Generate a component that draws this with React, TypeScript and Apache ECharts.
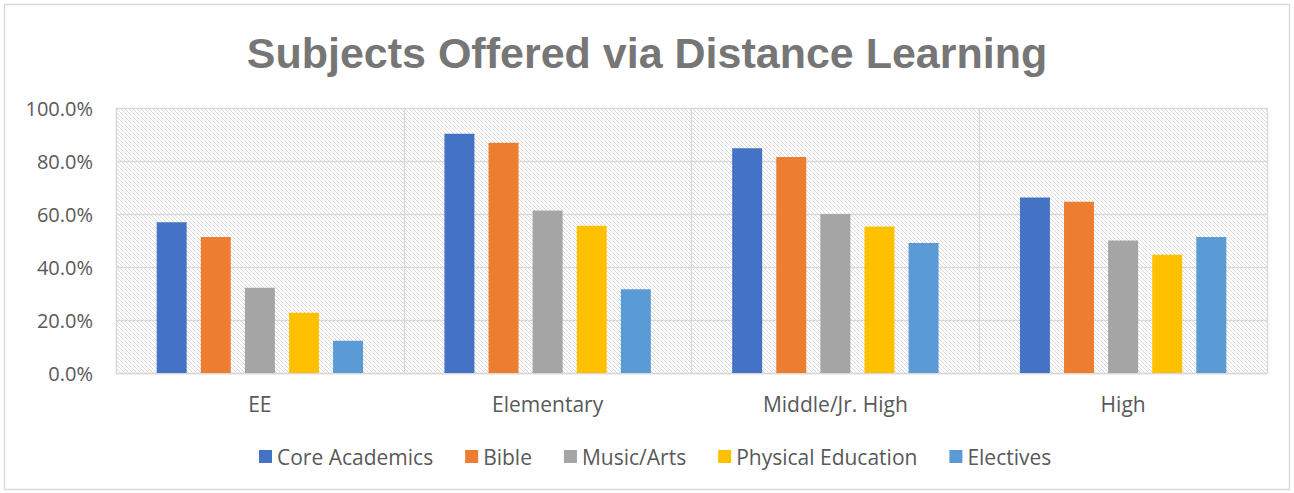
import React, { useEffect, useRef } from "react";
import * as echarts from "echarts";

const categories = ["EE", "Elementary", "Middle/Jr. High", "High"];
const seriesNames = ["Core Academics", "Bible", "Music/Arts", "Physical Education", "Electives"];
const coreAcademics = [56.9, 90.3, 84.8, 66.2];
const bible = [51.3, 86.9, 81.5, 64.6];
const musicArts = [32.2, 61.3, 60.0, 50.0];
const physicalEducation = [22.7, 55.6, 55.3, 44.6];
const electives = [12.2, 31.6, 49.1, 51.3];
const colors = ["#4472C4", "#ED7D31", "#A5A5A5", "#FFC000", "#5B9BD5"];
const yTicks = { min: 0, max: 100, interval: 20 };

export default function App() {
  const ref = useRef<HTMLDivElement>(null);
  useEffect(() => {
    if (!ref.current) return;
    const chart = echarts.init(ref.current, null, { renderer: "svg" });
    const cv = document.createElement("canvas");
    cv.width = 8;
    cv.height = 8;
    const ctx = cv.getContext("2d")!;
    ctx.fillStyle = "#ffffff";
    ctx.fillRect(0, 0, 8, 8);
    ctx.fillStyle = "#dadada";
    for (let y = 0; y < 8; y++) {
      for (let x = 0; x < 8; x++) {
        if (((x - y) % 4 + 4) % 4 === 0) ctx.fillRect(x, y, 1, 1);
      }
    }
    const pattern: any = { image: cv, repeat: "repeat", imageWidth: 8, imageHeight: 8 };
    const values = [coreAcademics, bible, musicArts, physicalEducation, electives];
    const font = "'Open Sans', sans-serif";
    chart.setOption({
      animation: false,
      backgroundColor: "#ffffff",
      color: colors,
      title: {
        text: "Subjects Offered via Distance Learning",
        left: "center",
        top: 26,
        textStyle: { fontFamily: "'Liberation Sans', Arial, sans-serif", fontSize: 43, fontWeight: "bold", color: "#767676" },
      },
      legend: {
        data: seriesNames,
        left: 254,
        top: 441,
        icon: "rect",
        itemWidth: 13,
        itemHeight: 13,
        itemGap: 32,
        textStyle: { fontFamily: font, fontSize: 21, color: "#595959", padding: [0, 0, 0, 0] },
      },
      graphic: [
        {
          type: "rect",
          shape: { x: 4.5, y: 4.5, width: 1285, height: 485 },
          style: { fill: "none", stroke: "#d9d9d9", lineWidth: 1.3 },
          silent: true,
        },
      ],
      grid: {
        left: 116,
        right: 27,
        top: 108,
        bottom: 120,
        show: true,
        borderWidth: 0,
        backgroundColor: pattern,
        containLabel: false,
      },
      xAxis: {
        type: "category",
        data: categories,
        axisLine: { show: true, lineStyle: { color: "#d9d9d9", width: 1.3 } },
        axisTick: { show: false },
        splitLine: { show: true, lineStyle: { color: "#d9d9d9", width: 1.3 } },
        axisLabel: { margin: 20, fontFamily: font, fontSize: 21, color: "#595959" },
      },
      yAxis: {
        type: "value",
        min: yTicks.min,
        max: yTicks.max,
        interval: yTicks.interval,
        axisLine: { show: true, lineStyle: { color: "#d9d9d9", width: 1.3 } },
        axisTick: { show: false },
        splitLine: { show: true, lineStyle: { color: "#d9d9d9", width: 1.3 } },
        axisLabel: {
          margin: 23,
          fontFamily: font,
          fontSize: 20,
          color: "#595959",
          formatter: (v: number) => v.toFixed(1) + "%",
        },
      },
      series: seriesNames.map((name, i) => ({
        name,
        type: "bar",
        data: values[i],
        barWidth: 30,
        barGap: "47%",
        itemStyle: { color: colors[i] },
      })),
    });
    return () => chart.dispose();
  }, []);
  return (
    <div
      ref={ref}
      style={{ position: "absolute", left: 0, top: 0, width: 1294, height: 493 }}
    />
  );
}
